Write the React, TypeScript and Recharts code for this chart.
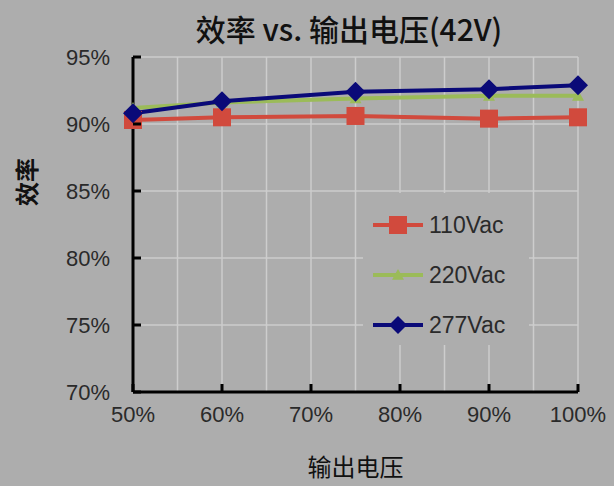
import { LineChart, Line, XAxis, YAxis, CartesianGrid, Legend } from 'recharts'

// Output voltage as a percentage of 42V
const outputLevels = [50, 60, 75, 90, 100]
const eff110 = [90.3, 90.5, 90.6, 90.4, 90.5]
const eff220 = [91.2, 91.6, 91.9, 92.1, 92.1]
const eff277 = [90.8, 91.7, 92.4, 92.6, 92.9]

const xTicks = [50, 60, 70, 80, 90, 100]
const yTicks = [70, 75, 80, 85, 90, 95]
const xGrid = [55, 60, 65, 70, 75, 80, 85, 90, 95, 100]

const seriesNames = ['110Vac', '220Vac', '277Vac']

const data = outputLevels.map((x, i) => ({
  x,
  v110: eff110[i],
  v220: eff220[i],
  v277: eff277[i],
}))

const BG = '#adadad'
const RED = '#d14a3d'
const GREEN = '#9bbb59'
const BLUE = '#0a0a78'
const TEXT = '#2a2a2a'
const FONT = '"Liberation Sans", Arial, sans-serif'
const CJK = '"Noto Sans CJK SC", "Noto Sans", sans-serif'

const Square = ({ cx, cy, size = 18 }: any) => (
  <rect x={cx - size / 2} y={cy - size / 2} width={size} height={size} fill={RED} />
)

const Diamond = ({ cx, cy, r = 10 }: any) => (
  <polygon points={`${cx},${cy - r} ${cx + r},${cy} ${cx},${cy + r} ${cx - r},${cy}`} fill={BLUE} />
)

const Triangle = ({ cx, cy, r = 6 }: any) => (
  <polygon points={`${cx},${cy - r} ${cx + r},${cy + r * 0.8} ${cx - r},${cy + r * 0.8}`} fill={GREEN} />
)

// y tick: label to the left, small tick pointing into the plot
const YTick = ({ x, y, payload }: any) => (
  <g>
    <line x1={x + 23} y1={y} x2={x + 31} y2={y} stroke="#000" strokeWidth={3} />
    <text x={x} y={y} dy="0.36em" textAnchor="end" fontSize={22} fill={TEXT} fontFamily={FONT}>
      {payload.value}%
    </text>
  </g>
)

const XTick = ({ x, y, payload }: any) => (
  <g>
    <line x1={x} y1={y - 12} x2={x} y2={y - 20} stroke="#000" strokeWidth={3} />
    <text x={x} y={y} dy="0.8em" textAnchor="middle" fontSize={22} fill={TEXT} fontFamily={FONT}>
      {payload.value}%
    </text>
  </g>
)

const LegendBox = () => {
  const markers = [
    (cx: number, cy: number) => <Square cx={cx} cy={cy} size={18} />,
    (cx: number, cy: number) => <Triangle cx={cx} cy={cy} r={6} />,
    (cx: number, cy: number) => <Diamond cx={cx} cy={cy} r={9} />,
  ]
  const colors = [RED, GREEN, BLUE]
  return (
    <svg width={166} height={152} style={{ display: 'block' }}>
      <rect x={0} y={0} width={166} height={152} fill={BG} />
      {seriesNames.map((name, i) => {
        const cy = 32 + i * 50
        return (
          <g key={name}>
            <line x1={10} y1={cy} x2={60} y2={cy} stroke={colors[i]} strokeWidth={4} />
            {markers[i](35, cy)}
            <text x={66} y={cy} dy="0.36em" fontSize={23} fill={TEXT} fontFamily={FONT}>
              {name}
            </text>
          </g>
        )
      })}
    </svg>
  )
}

export default function App() {
  return (
    <div style={{ position: 'fixed', left: 0, top: 0, width: 614, height: 486, background: BG }}>
      <LineChart
        width={614}
        height={486}
        data={data}
        margin={{ top: 57, right: 36, bottom: 0, left: 0 }}
      >
        <text x={349} y={30} dy="0.36em" textAnchor="middle" fontSize={30} fontWeight={500} fill="#111" fontFamily={CJK}>
          效率 vs. 输出电压(42V)
        </text>
        <text
          x={27}
          y={182}
          transform="rotate(-90 27 182)"
          textAnchor="middle"
          dy="0.36em"
          fontSize={24}
          fontWeight="bold"
          fill="#111"
          fontFamily={CJK}
        >
          效率
        </text>
        <CartesianGrid
          stroke="#cdcdcd"
          strokeWidth={1.5}
          verticalValues={xGrid}
          horizontalValues={yTicks}
        />
        <XAxis
          dataKey="x"
          type="number"
          domain={[50, 100]}
          ticks={xTicks}
          height={94}
          tickSize={0}
          tickMargin={12}
          tick={<XTick />}
          axisLine={{ stroke: '#000', strokeWidth: 3 }}
          label={{
            value: '输出电压',
            position: 'insideBottom',
            offset: 10,
            fontSize: 24,
            fill: '#111',
            fontFamily: CJK,
          }}
        />
        <YAxis
          type="number"
          domain={[70, 95]}
          ticks={yTicks}
          width={133}
          tickSize={0}
          tickMargin={23}
          tick={<YTick />}
          axisLine={{ stroke: '#000', strokeWidth: 3 }}
        />
        <Legend
          layout="vertical"
          verticalAlign="middle"
          align="center"
          wrapperStyle={{ left: 363, top: 193, width: 166 }}
          content={<LegendBox />}
        />
        <Line
          dataKey="v110"
          name={seriesNames[0]}
          stroke={RED}
          strokeWidth={4}
          dot={(p: any) => <Square key={`s${p.index}`} cx={p.cx} cy={p.cy} />}
          isAnimationActive={false}
        />
        <Line
          dataKey="v220"
          name={seriesNames[1]}
          stroke={GREEN}
          strokeWidth={4}
          dot={(p: any) => <Triangle key={`t${p.index}`} cx={p.cx} cy={p.cy} />}
          isAnimationActive={false}
        />
        <Line
          dataKey="v277"
          name={seriesNames[2]}
          stroke={BLUE}
          strokeWidth={4}
          dot={(p: any) => <Diamond key={`d${p.index}`} cx={p.cx} cy={p.cy} />}
          isAnimationActive={false}
        />
      </LineChart>
    </div>
  )
}
